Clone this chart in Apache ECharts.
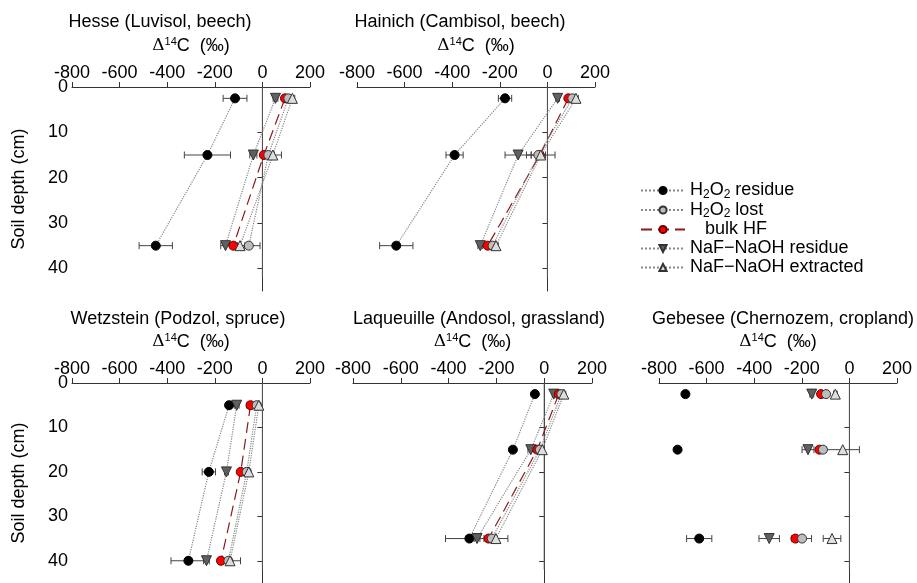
<!DOCTYPE html>
<html>
<head>
<meta charset="utf-8">
<script src="https://cdn.jsdelivr.net/npm/echarts@6/dist/echarts.min.js"></script>
<style>
  html, body { margin: 0; padding: 0; background: #fff; }
  #chart { width: 917px; height: 583px; }
</style>
</head>
<body>
<div id="chart"></div>
<script>
// site labels and sample depths (cm)
const sites = ['Hesse (Luvisol, beech)', 'Hainich (Cambisol, beech)', 'Wetzstein (Podzol, spruce)',
  'Laqueuille (Andosol, grassland)', 'Gebesee (Chernozem, cropland)']
const depths = [[2.5, 15, 35], [2.5, 15, 35], [5, 20, 40], [2.5, 15, 35], [2.5, 15, 35]]

// delta 14C values (permil), one row per site
const h2o2Residue = [[-115, -231, -448], [-178, -390, -635], [-140, -225, -311], [-39, -131, -313], [-689, -722, -631]]
const h2o2Lost = [[109, 25, -57], [105, -38, -230], [-24, -66, -143], [72, -18, -219], [-98, -111, -199]]
const bulkHF = [[95, 6, -122], [88, -32, -251], [-50, -91, -174], [61, -29, -233], [-119, -126, -227]]
const nafResidue = [[55, -38, -155], [43, -123, -282], [-108, -151, -235], [40, -56, -281], [-158, -174, -337]]
const nafExtracted = [[126, 44, -94], [120, -28, -216], [-15, -57, -136], [82, -8, -202], [-59, -28, -73]]

// error bar half widths
const h2o2ResidueErr = [[50, 97, 70], [28, 36, 70], [8, 28, 73], [6, 8, 100], [12, 10, 53]]
const h2o2LostErr = [[8, 25, 47], [10, 30, 10], [8, 10, 12], [8, 10, 15], [8, 12, 40]]
const bulkHFErr = [[6, 10, 10], [6, 15, 10], [15, 8, 12], [6, 8, 12], [6, 8, 15]]
const nafResidueErr = [[10, 15, 20], [8, 55, 10], [10, 8, 12], [6, 12, 12], [8, 25, 43]]
const nafExtractedErr = [[10, 36, 20], [10, 60, 10], [8, 8, 44], [8, 8, 50], [8, 70, 37]]

const xTicks = [-800, -600, -400, -200, 0, 200]
const yTicks = [0, 10, 20, 30, 40]

const FONT = 'Liberation Sans, Arial, sans-serif'

const fractions = [
  { name: 'H2O2 residue', vals: h2o2Residue, err: h2o2ResidueErr, symbol: 'circle', size: 9, rot: 0, fill: '#000', border: '#000', line: 'dotted', lineColor: '#888' },
  { name: 'NaF-NaOH residue', vals: nafResidue, err: nafResidueErr, symbol: 'triangle', size: 10, rot: 180, fill: '#606060', border: '#333', line: 'dotted', lineColor: '#888' },
  { name: 'bulk HF', vals: bulkHF, err: bulkHFErr, symbol: 'circle', size: 9, rot: 0, fill: '#ff0000', border: '#600', line: [11, 6], lineColor: '#8b1a1a' },
  { name: 'H2O2 lost', vals: h2o2Lost, err: h2o2LostErr, symbol: 'circle', size: 9, rot: 0, fill: '#bdbdbd', border: '#333', line: 'dotted', lineColor: '#888' },
  { name: 'NaF-NaOH extracted', vals: nafExtracted, err: nafExtractedErr, symbol: 'triangle', size: 10, rot: 0, fill: '#dedede', border: '#333', line: 'dotted', lineColor: '#888' }
]

const grids = [
  { left: 72, top: 87, width: 238, height: 204 },
  { left: 357, top: 87, width: 238, height: 204 },
  { left: 72, top: 383, width: 238, height: 204 },
  { left: 353, top: 383, width: 239, height: 204 },
  { left: 659, top: 383, width: 238, height: 204 }
]
const titlePos = [[160, 22], [460, 22], [178, 319], [479, 319], [783, 319]]

function renderErr(params, api) {
  const lo = api.coord([api.value(0), api.value(2)])
  const hi = api.coord([api.value(1), api.value(2)])
  const h = 3.5
  const st = { stroke: '#444', lineWidth: 1 }
  return {
    type: 'group',
    children: [
      { type: 'line', shape: { x1: lo[0], y1: lo[1], x2: hi[0], y2: hi[1] }, style: st },
      { type: 'line', shape: { x1: lo[0], y1: lo[1] - h, x2: lo[0], y2: lo[1] + h }, style: st },
      { type: 'line', shape: { x1: hi[0], y1: hi[1] - h, x2: hi[0], y2: hi[1] + h }, style: st }
    ]
  }
}

const xAxes = grids.map((g, i) => ({
  gridIndex: i,
  type: 'value',
  position: 'top',
  min: -800, max: 200, interval: 200,
  name: '{d|Δ}{sup|14}{n|C  (‰)}',
  nameLocation: 'middle',
  nameGap: 31,
  nameTextStyle: {
    rich: {
      d: { fontSize: 17, fontFamily: 'DejaVu Serif, serif', color: '#000' },
      sup: { fontSize: 11, fontFamily: FONT, color: '#000', padding: [0, 0, 9, 0] },
      n: { fontSize: 18, fontFamily: FONT, color: '#000' }
    }
  },
  axisLine: { show: true, lineStyle: { color: '#333', width: 1 } },
  axisTick: { show: true, inside: false, length: 5, lineStyle: { color: '#333' }, customValues: xTicks },
  axisLabel: { fontSize: 18, fontFamily: FONT, color: '#000', margin: 5, customValues: xTicks },
  splitLine: { show: false }
}))

const yAxes = grids.map((g, i) => ({
  gridIndex: i,
  type: 'value',
  inverse: true,
  min: 0, max: 45, interval: 10,
  name: (i === 0 || i === 2) ? 'Soil depth (cm)' : '',
  nameLocation: 'middle',
  nameGap: 44,
  nameTextStyle: { fontSize: 18, fontFamily: FONT, color: '#000' },
  axisLine: { show: true, lineStyle: { color: '#333', width: 1 } },
  axisTick: { show: true, inside: false, length: 5, lineStyle: { color: '#333' }, customValues: yTicks },
  axisLabel: { show: i === 0 || i === 2, fontSize: 18, fontFamily: FONT, color: '#000', margin: 4, customValues: yTicks },
  splitLine: { show: false }
}))

const series = []
grids.forEach((g, i) => {
  // zero reference line
  series.push({
    type: 'line', name: 'zero', xAxisIndex: i, yAxisIndex: i,
    data: [[0, 0], [0, 42]], symbol: 'none', silent: true, z: 1,
    lineStyle: { color: '#555', width: 1 }
  })
  fractions.forEach(f => {
    series.push({
      type: 'custom', name: f.name + ' err', xAxisIndex: i, yAxisIndex: i,
      renderItem: renderErr, z: 2, silent: true,
      encode: { x: [0, 1], y: 2 },
      data: depths[i].map((d, k) => [f.vals[i][k] - f.err[i][k], f.vals[i][k] + f.err[i][k], d])
    })
  })
  fractions.forEach((f, fi) => {
    series.push({
      type: 'line', name: f.name, xAxisIndex: i, yAxisIndex: i,
      data: depths[i].map((d, k) => [f.vals[i][k], d]),
      symbol: f.symbol, symbolSize: f.size, symbolRotate: f.rot,
      z: 3 + fi,
      itemStyle: { color: f.fill, borderColor: f.border, borderWidth: 1 },
      lineStyle: { type: f.line, color: f.lineColor, width: 1.2, opacity: i === 4 ? 0 : 1 }
    })
  })
})

const legendLabels = {
  'H2O2 residue': 'H{s|2}O{s|2} residue',
  'H2O2 lost': 'H{s|2}O{s|2} lost',
  'bulk HF': '   bulk HF',
  'NaF-NaOH residue': 'NaF−NaOH residue',
  'NaF-NaOH extracted': 'NaF−NaOH extracted'
}

const chart = echarts.init(document.getElementById('chart'))
chart.setOption({
  animation: false,
  backgroundColor: '#fff',
  textStyle: { fontFamily: FONT },
  grid: grids,
  xAxis: xAxes,
  yAxis: yAxes,
  legend: {
    data: ['H2O2 residue', 'H2O2 lost', 'bulk HF', 'NaF-NaOH residue', 'NaF-NaOH extracted'],
    orient: 'vertical',
    left: 635, top: 176,
    itemWidth: 44, itemHeight: 9, itemGap: 0,
    formatter: name => legendLabels[name],
    textStyle: {
      fontSize: 18, fontFamily: FONT, color: '#000', lineHeight: 19,
      rich: { s: { fontSize: 12, fontFamily: FONT, color: '#000', padding: [8, 0, 0, 0] } }
    }
  },
  graphic: sites.map((s, i) => ({
    type: 'text', x: titlePos[i][0], y: titlePos[i][1],
    style: { text: s, fontSize: 18, fontFamily: FONT, fill: '#000', align: 'center', verticalAlign: 'middle' }
  })),
  series: series
})
</script>
</body>
</html>
